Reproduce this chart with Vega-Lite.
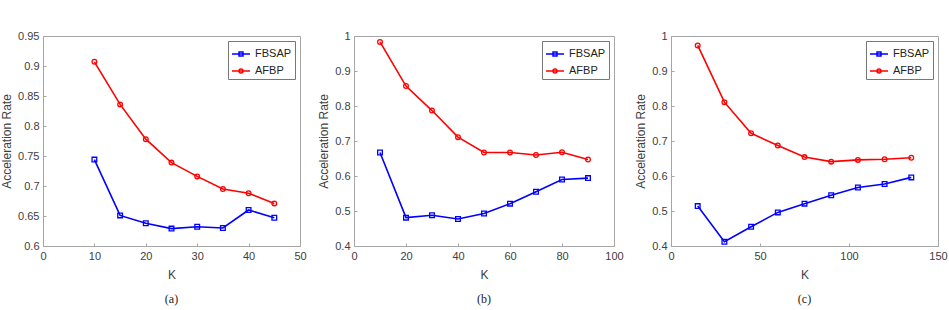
{
  "$schema": "https://vega.github.io/schema/vega-lite/v6.json",
  "background": "white",
  "padding": {"left": 0, "top": 29, "right": 0, "bottom": 0},
  "spacing": 10,
  "config": {
    "font": "Liberation Sans",
    "view": {"stroke": "#a6a6a6", "strokeWidth": 1},
    "axis": {
      "labelFont": "Liberation Sans", "labelFontSize": 11, "labelColor": "#404040",
      "titleFont": "Liberation Sans", "titleFontSize": 12, "titleColor": "#404040", "titleFontWeight": "normal",
      "domainColor": "#a6a6a6", "tickColor": "#a6a6a6", "tickSize": -3, "labelPadding": 7,
      "grid": false, "labelFlush": false, "labelOverlap": false
    },
    "axisY": {"titlePadding": 4},
    "axisX": {"titlePadding": 8},
    "legend": {
      "orient": "top-right", "offset": 5, "title": null,
      "strokeColor": "#777777", "fillColor": "white", "padding": 3, "rowPadding": 2,
      "labelFont": "Liberation Sans", "labelFontSize": 11, "labelColor": "#222222",
      "symbolSize": 324, "symbolStrokeWidth": 1.5, "symbolFillColor": "transparent"
    },
    "title": {"font": "Liberation Serif", "fontSize": 12, "fontWeight": "normal", "color": "#222222", "orient": "bottom", "offset": 14}
  },
  "datasets": {
    "rows": [
      {"panel": "a", "K": 10, "series": "FBSAP", "rate": 0.744},
      {"panel": "a", "K": 15, "series": "FBSAP", "rate": 0.651},
      {"panel": "a", "K": 20, "series": "FBSAP", "rate": 0.638},
      {"panel": "a", "K": 25, "series": "FBSAP", "rate": 0.629},
      {"panel": "a", "K": 30, "series": "FBSAP", "rate": 0.632},
      {"panel": "a", "K": 35, "series": "FBSAP", "rate": 0.630},
      {"panel": "a", "K": 40, "series": "FBSAP", "rate": 0.660},
      {"panel": "a", "K": 45, "series": "FBSAP", "rate": 0.647},
      {"panel": "a", "K": 10, "series": "AFBP", "rate": 0.907},
      {"panel": "a", "K": 15, "series": "AFBP", "rate": 0.836},
      {"panel": "a", "K": 20, "series": "AFBP", "rate": 0.778},
      {"panel": "a", "K": 25, "series": "AFBP", "rate": 0.739},
      {"panel": "a", "K": 30, "series": "AFBP", "rate": 0.716},
      {"panel": "a", "K": 35, "series": "AFBP", "rate": 0.695},
      {"panel": "a", "K": 40, "series": "AFBP", "rate": 0.688},
      {"panel": "a", "K": 45, "series": "AFBP", "rate": 0.671},
      {"panel": "b", "K": 10, "series": "FBSAP", "rate": 0.667},
      {"panel": "b", "K": 20, "series": "FBSAP", "rate": 0.481},
      {"panel": "b", "K": 30, "series": "FBSAP", "rate": 0.488},
      {"panel": "b", "K": 40, "series": "FBSAP", "rate": 0.477},
      {"panel": "b", "K": 50, "series": "FBSAP", "rate": 0.493},
      {"panel": "b", "K": 60, "series": "FBSAP", "rate": 0.521},
      {"panel": "b", "K": 70, "series": "FBSAP", "rate": 0.555},
      {"panel": "b", "K": 80, "series": "FBSAP", "rate": 0.590},
      {"panel": "b", "K": 90, "series": "FBSAP", "rate": 0.594},
      {"panel": "b", "K": 10, "series": "AFBP", "rate": 0.983},
      {"panel": "b", "K": 20, "series": "AFBP", "rate": 0.857},
      {"panel": "b", "K": 30, "series": "AFBP", "rate": 0.787},
      {"panel": "b", "K": 40, "series": "AFBP", "rate": 0.711},
      {"panel": "b", "K": 50, "series": "AFBP", "rate": 0.667},
      {"panel": "b", "K": 60, "series": "AFBP", "rate": 0.667},
      {"panel": "b", "K": 70, "series": "AFBP", "rate": 0.660},
      {"panel": "b", "K": 80, "series": "AFBP", "rate": 0.668},
      {"panel": "b", "K": 90, "series": "AFBP", "rate": 0.647},
      {"panel": "c", "K": 15, "series": "FBSAP", "rate": 0.514},
      {"panel": "c", "K": 30, "series": "FBSAP", "rate": 0.412},
      {"panel": "c", "K": 45, "series": "FBSAP", "rate": 0.455},
      {"panel": "c", "K": 60, "series": "FBSAP", "rate": 0.496},
      {"panel": "c", "K": 75, "series": "FBSAP", "rate": 0.521},
      {"panel": "c", "K": 90, "series": "FBSAP", "rate": 0.545},
      {"panel": "c", "K": 105, "series": "FBSAP", "rate": 0.567},
      {"panel": "c", "K": 120, "series": "FBSAP", "rate": 0.577},
      {"panel": "c", "K": 135, "series": "FBSAP", "rate": 0.596},
      {"panel": "c", "K": 15, "series": "AFBP", "rate": 0.973},
      {"panel": "c", "K": 30, "series": "AFBP", "rate": 0.811},
      {"panel": "c", "K": 45, "series": "AFBP", "rate": 0.722},
      {"panel": "c", "K": 60, "series": "AFBP", "rate": 0.687},
      {"panel": "c", "K": 75, "series": "AFBP", "rate": 0.654},
      {"panel": "c", "K": 90, "series": "AFBP", "rate": 0.641},
      {"panel": "c", "K": 105, "series": "AFBP", "rate": 0.646},
      {"panel": "c", "K": 120, "series": "AFBP", "rate": 0.648},
      {"panel": "c", "K": 135, "series": "AFBP", "rate": 0.652}
    ]
  },
  "data": {"name": "rows"},
  "hconcat": [
    {
      "title": {"text": "(a)"},
      "width": 257, "height": 210,
      "transform": [{"filter": "datum.panel === 'a'"}],
      "encoding": {
        "x": {"field": "K", "type": "quantitative", "scale": {"domain": [0, 50], "nice": false},
              "axis": {"values": [0, 10, 20, 30, 40, 50], "title": "K"}},
        "y": {"field": "rate", "type": "quantitative", "scale": {"domain": [0.6, 0.95], "nice": false, "zero": false},
              "axis": {"values": [0.6, 0.65, 0.7, 0.75, 0.8, 0.85, 0.9, 0.95], "format": "~g", "title": "Acceleration Rate"}},
        "color": {"field": "series", "type": "nominal", "scale": {"domain": ["FBSAP", "AFBP"], "range": ["#0000ff", "#ff0000"]},
                  "legend": {"encode": {"symbols": {"update": {"shape": {"signal": "datum.value === 'FBSAP' ? 'M-1,0H1M-0.22,-0.22H0.22V0.22H-0.22Z' : 'M-1,0H1M0.22,0A0.22,0.22,0,1,1,-0.22,0A0.22,0.22,0,1,1,0.22,0'"}}}}}}
      },
      "layer": [
        {"mark": {"type": "line", "strokeWidth": 1.6}},
        {"mark": {"type": "point", "filled": false, "size": 22, "strokeWidth": 1.3, "opacity": 1},
         "encoding": {"shape": {"field": "series", "type": "nominal", "scale": {"domain": ["FBSAP", "AFBP"], "range": ["square", "circle"]}, "legend": null}}}
      ]
    },
    {
      "title": {"text": "(b)"},
      "width": 260, "height": 210,
      "transform": [{"filter": "datum.panel === 'b'"}],
      "encoding": {
        "x": {"field": "K", "type": "quantitative", "scale": {"domain": [0, 100], "nice": false},
              "axis": {"values": [0, 20, 40, 60, 80, 100], "title": "K"}},
        "y": {"field": "rate", "type": "quantitative", "scale": {"domain": [0.4, 1], "nice": false, "zero": false},
              "axis": {"values": [0.4, 0.5, 0.6, 0.7, 0.8, 0.9, 1], "format": "~g", "title": "Acceleration Rate"}},
        "color": {"field": "series", "type": "nominal", "scale": {"domain": ["FBSAP", "AFBP"], "range": ["#0000ff", "#ff0000"]},
                  "legend": {"encode": {"symbols": {"update": {"shape": {"signal": "datum.value === 'FBSAP' ? 'M-1,0H1M-0.22,-0.22H0.22V0.22H-0.22Z' : 'M-1,0H1M0.22,0A0.22,0.22,0,1,1,-0.22,0A0.22,0.22,0,1,1,0.22,0'"}}}}}}
      },
      "layer": [
        {"mark": {"type": "line", "strokeWidth": 1.6}},
        {"mark": {"type": "point", "filled": false, "size": 22, "strokeWidth": 1.3, "opacity": 1},
         "encoding": {"shape": {"field": "series", "type": "nominal", "scale": {"domain": ["FBSAP", "AFBP"], "range": ["square", "circle"]}, "legend": null}}}
      ]
    },
    {
      "title": {"text": "(c)"},
      "width": 267, "height": 210,
      "transform": [{"filter": "datum.panel === 'c'"}],
      "encoding": {
        "x": {"field": "K", "type": "quantitative", "scale": {"domain": [0, 150], "nice": false},
              "axis": {"values": [0, 50, 100, 150], "title": "K"}},
        "y": {"field": "rate", "type": "quantitative", "scale": {"domain": [0.4, 1], "nice": false, "zero": false},
              "axis": {"values": [0.4, 0.5, 0.6, 0.7, 0.8, 0.9, 1], "format": "~g", "title": "Acceleration Rate"}},
        "color": {"field": "series", "type": "nominal", "scale": {"domain": ["FBSAP", "AFBP"], "range": ["#0000ff", "#ff0000"]},
                  "legend": {"encode": {"symbols": {"update": {"shape": {"signal": "datum.value === 'FBSAP' ? 'M-1,0H1M-0.22,-0.22H0.22V0.22H-0.22Z' : 'M-1,0H1M0.22,0A0.22,0.22,0,1,1,-0.22,0A0.22,0.22,0,1,1,0.22,0'"}}}}}}
      },
      "layer": [
        {"mark": {"type": "line", "strokeWidth": 1.6}},
        {"mark": {"type": "point", "filled": false, "size": 22, "strokeWidth": 1.3, "opacity": 1},
         "encoding": {"shape": {"field": "series", "type": "nominal", "scale": {"domain": ["FBSAP", "AFBP"], "range": ["square", "circle"]}, "legend": null}}}
      ]
    }
  ],
  "resolve": {"scale": {"color": "independent"}, "legend": {"color": "independent"}}
}
